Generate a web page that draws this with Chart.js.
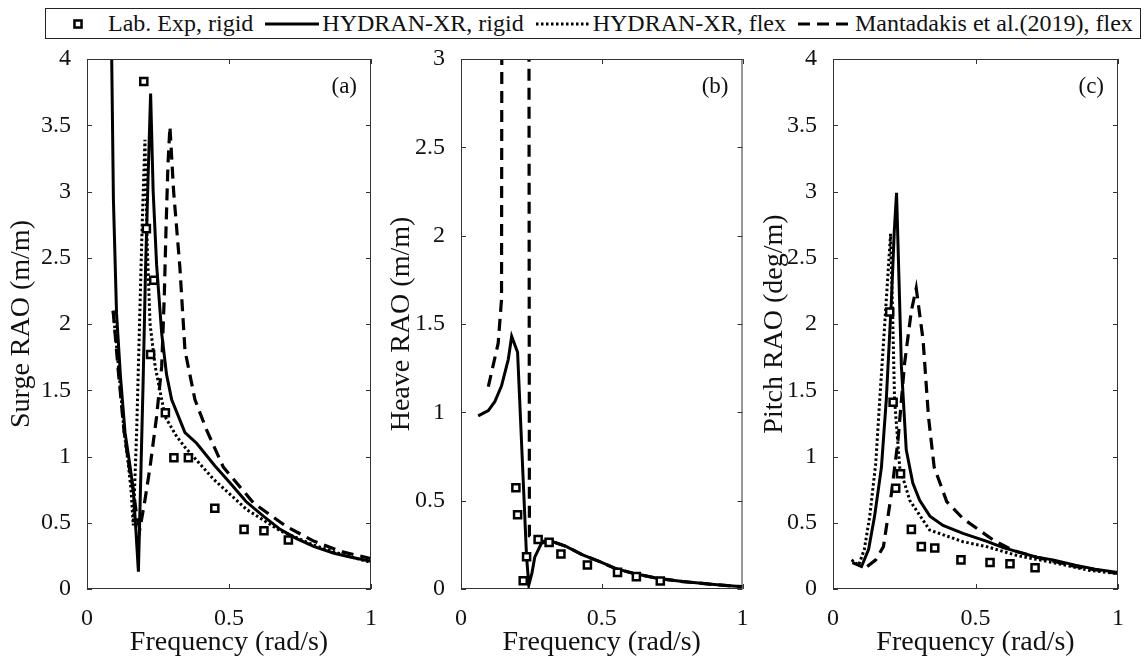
<!DOCTYPE html>
<html>
<head>
<title>RAO comparison</title>
<script src="https://cdn.jsdelivr.net/npm/chart.js"></script>
<style>
  body { margin: 0; background: #fff; width: 1146px; height: 664px; position: relative; overflow: hidden;
         font-family: "Liberation Serif", serif; color: #111; }
  canvas.panel { position: absolute; top: 40px; }
  #legend { position: absolute; left: 45px; top: 8px; width: 1094px; height: 29px; border: 1px solid #222;
            display: flex; align-items: center; font-size: 24px; white-space: nowrap; background: #fff; }
  #legend .item { display: flex; align-items: center; margin-left: 12px; }
  #legend .item span { margin-left: 3px; }
</style>
</head>
<body>
<div id="legend"></div>
<canvas id="surge" class="panel" width="380" height="624" style="left:0px"></canvas>
<canvas id="heave" class="panel" width="370" height="624" style="left:380px"></canvas>
<canvas id="pitch" class="panel" width="396" height="624" style="left:750px"></canvas>

<script>
// ---- surge (a) ----
const surgeExpFreq = [0.200, 0.209, 0.224, 0.235, 0.276, 0.306, 0.357, 0.450, 0.553, 0.623, 0.709];
const surgeExp     = [3.83, 2.72, 1.77, 2.33, 1.33, 0.99, 0.99, 0.61, 0.45, 0.44, 0.37];

const surgeRigidFreq = [0.083, 0.087, 0.093, 0.104, 0.118, 0.134, 0.150, 0.163, 0.172, 0.181, 0.190, 0.198, 0.206, 0.215, 0.224, 0.233, 0.245, 0.263, 0.280, 0.298, 0.345, 0.386, 0.450, 0.504, 0.560, 0.621, 0.680, 0.738, 0.800, 0.870, 0.930, 1.000];
const surgeRigid     = [4.60, 4.00, 2.94, 2.08, 1.60, 1.18, 0.95, 0.75, 0.45, 0.13, 0.90, 1.60, 2.40, 3.10, 3.74, 3.00, 2.45, 1.93, 1.62, 1.43, 1.18, 1.10, 0.93, 0.80, 0.66, 0.55, 0.45, 0.38, 0.32, 0.27, 0.24, 0.21];

const surgeFlexFreq = [0.092, 0.110, 0.130, 0.145, 0.155, 0.163, 0.175, 0.185, 0.195, 0.204, 0.212, 0.222, 0.240, 0.275, 0.316, 0.345, 0.445, 0.562, 0.680, 0.800, 0.900, 1.000];
const surgeFlex     = [2.10, 1.70, 1.20, 0.95, 0.75, 0.48, 1.20, 2.00, 2.80, 3.39, 2.60, 2.00, 1.68, 1.30, 1.15, 1.07, 0.83, 0.60, 0.44, 0.33, 0.26, 0.20];

const surgeRefFreq = [0.092, 0.110, 0.130, 0.150, 0.165, 0.175, 0.186, 0.204, 0.222, 0.245, 0.263, 0.272, 0.278, 0.285, 0.292, 0.305, 0.327, 0.345, 0.380, 0.421, 0.480, 0.586, 0.703, 0.800, 0.900, 1.000];
const surgeRef     = [2.10, 1.65, 1.20, 0.90, 0.72, 0.55, 0.45, 0.67, 0.92, 1.30, 1.68, 2.20, 2.70, 3.20, 3.49, 3.00, 2.43, 1.80, 1.43, 1.20, 0.92, 0.65, 0.47, 0.36, 0.28, 0.23];

// ---- heave (b) ----
const heaveExpFreq = [0.195, 0.201, 0.221, 0.233, 0.274, 0.313, 0.355, 0.449, 0.556, 0.623, 0.708];
const heaveExp     = [0.573, 0.420, 0.047, 0.183, 0.280, 0.264, 0.198, 0.136, 0.094, 0.070, 0.045];

const heaveRigidFreq = [0.061, 0.097, 0.120, 0.144, 0.168, 0.180, 0.201, 0.233, 0.241, 0.252, 0.262, 0.286, 0.322, 0.375, 0.430, 0.493, 0.550, 0.611, 0.700, 0.788, 0.900, 1.000];
const heaveRigid     = [0.98, 1.01, 1.06, 1.15, 1.30, 1.43, 1.34, 0.18, 0.023, 0.09, 0.18, 0.26, 0.27, 0.24, 0.195, 0.155, 0.115, 0.089, 0.060, 0.042, 0.025, 0.013];

const heaveRefFreq = [0.097, 0.132, 0.144, 0.147, 0.240, 0.243, 0.270, 0.322, 0.375, 0.430, 0.493, 0.550, 0.611, 0.700, 0.788, 0.900, 1.000];
const heaveRef     = [1.145, 1.39, 1.64, 6.00, 6.00, 0.30, 0.27, 0.27, 0.24, 0.195, 0.155, 0.115, 0.089, 0.060, 0.042, 0.025, 0.013];

// ---- pitch (c) ----
const pitchExpFreq = [0.199, 0.211, 0.220, 0.237, 0.275, 0.310, 0.357, 0.449, 0.551, 0.621, 0.709];
const pitchExp     = [2.09, 1.41, 0.76, 0.87, 0.45, 0.32, 0.31, 0.22, 0.20, 0.19, 0.16];

const pitchRigidFreq = [0.068, 0.100, 0.125, 0.146, 0.170, 0.187, 0.205, 0.215, 0.223, 0.232, 0.240, 0.257, 0.280, 0.304, 0.340, 0.386, 0.456, 0.540, 0.600, 0.715, 0.772, 0.850, 0.920, 1.000];
const pitchRigid     = [0.20, 0.17, 0.30, 0.55, 0.92, 1.43, 2.18, 2.70, 2.99, 2.30, 1.68, 1.05, 0.80, 0.67, 0.55, 0.48, 0.42, 0.36, 0.31, 0.24, 0.22, 0.18, 0.15, 0.125];

const pitchFlexFreq = [0.065, 0.090, 0.110, 0.129, 0.150, 0.164, 0.187, 0.202, 0.210, 0.216, 0.234, 0.269, 0.339, 0.456, 0.539, 0.650, 0.772, 0.900, 1.000];
const pitchFlex     = [0.22, 0.18, 0.30, 0.55, 0.95, 1.43, 2.18, 2.68, 2.00, 1.43, 0.92, 0.67, 0.445, 0.357, 0.32, 0.25, 0.20, 0.14, 0.117];

const pitchRefFreq = [0.120, 0.150, 0.177, 0.205, 0.228, 0.251, 0.275, 0.292, 0.316, 0.335, 0.355, 0.399, 0.457, 0.562, 0.633, 0.715, 0.850, 1.000];
const pitchRef     = [0.17, 0.22, 0.32, 0.72, 1.12, 1.70, 2.10, 2.27, 1.88, 1.30, 0.92, 0.66, 0.53, 0.37, 0.29, 0.24, 0.17, 0.117];

const freqTicks = [0, 0.5, 1];

const pts = (xs, ys) => xs.map((x, i) => ({ x: x, y: ys[i] }));
const fmt = v => String(Math.round(v * 100) / 100);

const TEXT = '#111';
const FONT = '"Liberation Serif", serif';

// series styles, shared with the legend
const styles = {
  exp:   { label: 'Lab. Exp, rigid', showLine: false, pointStyle: 'rect', pointRadius: 5, borderWidth: 2.5,
           borderColor: '#000', backgroundColor: '#fff' },
  rigid: { label: 'HYDRAN-XR, rigid', showLine: true, pointRadius: 0, borderWidth: 3, borderColor: '#000' },
  flex:  { label: 'HYDRAN-XR, flex', showLine: true, pointRadius: 0, borderWidth: 3, borderColor: '#000',
           borderDash: [2.5, 2.5] },
  ref:   { label: 'Mantadakis et al.(2019), flex', showLine: true, pointRadius: 0, borderWidth: 3.2,
           borderColor: '#000', borderDash: [12, 7] }
};

// box around the plot area, inward ticks on all four sides and the panel tag
const frame = {
  id: 'frame',
  afterDraw(chart, args, opts) {
    const { ctx, chartArea: a, scales: { x, y } } = chart;
    ctx.save();
    ctx.strokeStyle = '#333';
    ctx.lineWidth = 1;
    ctx.strokeRect(a.left + 0.5, a.top + 0.5, a.right - a.left - 1, a.bottom - a.top - 1);
    ctx.beginPath();
    x.ticks.forEach(t => {
      const px = Math.round(x.getPixelForValue(t.value)) + 0.5;
      ctx.moveTo(px, a.bottom); ctx.lineTo(px, a.bottom - 5);
      ctx.moveTo(px, a.top); ctx.lineTo(px, a.top + 5);
    });
    y.ticks.forEach(t => {
      const py = Math.round(y.getPixelForValue(t.value)) + 0.5;
      ctx.moveTo(a.left, py); ctx.lineTo(a.left + 5, py);
      ctx.moveTo(a.right, py); ctx.lineTo(a.right - 5, py);
    });
    ctx.stroke();
    ctx.fillStyle = TEXT;
    ctx.font = '23px ' + FONT;
    ctx.textAlign = 'right';
    ctx.textBaseline = 'middle';
    ctx.fillText(opts.tag, a.right - 14, a.top + 28);
    ctx.restore();
  }
};

function makePanel(id, cfg) {
  const datasets = cfg.series.map(s => Object.assign({}, styles[s.kind], { data: s.data }));
  return new Chart(document.getElementById(id), {
    type: 'scatter',
    data: { datasets: datasets },
    options: {
      responsive: false,
      animation: false,
      layout: { padding: { top: 19, right: cfg.padRight, left: 0, bottom: 0 } },
      plugins: { legend: { display: false }, tooltip: { enabled: false }, frame: { tag: cfg.tag } },
      scales: {
        x: {
          type: 'linear', min: 0, max: 1,
          afterBuildTicks: s => { s.ticks = freqTicks.map(v => ({ value: v })); },
          ticks: { color: TEXT, font: { family: FONT, size: 24 }, padding: 7, callback: fmt },
          grid: { display: false },
          border: { display: false },
          title: { display: true, text: 'Frequency (rad/s)', color: TEXT,
                   font: { family: FONT, size: 28 }, padding: { top: 0, bottom: 5 } },
          afterFit: s => { s.height = 75; s.paddingLeft = 0; s.paddingRight = 0; }
        },
        y: {
          type: 'linear', min: 0, max: cfg.yMax,
          ticks: { stepSize: 0.5, color: TEXT, font: { family: FONT, size: 24 }, padding: 8, callback: fmt },
          grid: { display: false },
          border: { display: false },
          title: { display: true, text: cfg.yTitle, color: TEXT,
                   font: { family: FONT, size: 28 }, padding: { top: cfg.titlePad, bottom: 0 } },
          afterFit: s => { s.width = cfg.yWidth; s.paddingTop = 0; s.paddingBottom = 0; }
        }
      }
    },
    plugins: [frame]
  });
}

makePanel('surge', {
  tag: '(a)', yMax: 4, yTitle: 'Surge RAO (m/m)', yWidth: 87, padRight: 9, titlePad: 5,
  series: [
    { kind: 'exp', data: pts(surgeExpFreq, surgeExp) },
    { kind: 'rigid', data: pts(surgeRigidFreq, surgeRigid) },
    { kind: 'flex', data: pts(surgeFlexFreq, surgeFlex) },
    { kind: 'ref', data: pts(surgeRefFreq, surgeRef) }
  ]
});

makePanel('heave', {
  tag: '(b)', yMax: 3, yTitle: 'Heave RAO (m/m)', yWidth: 81, padRight: 7, titlePad: 5,
  series: [
    { kind: 'exp', data: pts(heaveExpFreq, heaveExp) },
    { kind: 'rigid', data: pts(heaveRigidFreq, heaveRigid) },
    { kind: 'ref', data: pts(heaveRefFreq, heaveRef) }
  ]
});

makePanel('pitch', {
  tag: '(c)', yMax: 4, yTitle: 'Pitch RAO (deg/m)', yWidth: 83, padRight: 28, titlePad: 8,
  series: [
    { kind: 'exp', data: pts(pitchExpFreq, pitchExp) },
    { kind: 'rigid', data: pts(pitchRigidFreq, pitchRigid) },
    { kind: 'flex', data: pts(pitchFlexFreq, pitchFlex) },
    { kind: 'ref', data: pts(pitchRefFreq, pitchRef) }
  ]
});

// legend keys drawn with the same styles as the series
const legend = document.getElementById('legend');
['exp', 'rigid', 'flex', 'ref'].forEach((k, i) => {
  const st = styles[k];
  const item = document.createElement('div');
  item.className = 'item';
  if (i === 0) item.style.marginLeft = '18px';
  const key = document.createElement('canvas');
  const w = k === 'exp' ? 41 : 54;
  key.width = w; key.height = 20;
  const c = key.getContext('2d');
  c.strokeStyle = '#000';
  c.lineWidth = st.borderWidth;
  if (k === 'exp') {
    c.fillStyle = '#fff';
    const s = st.pointRadius * Math.SQRT1_2;
    c.fillRect(14 - s, 10 - s, 2 * s, 2 * s);
    c.strokeRect(14 - s, 10 - s, 2 * s, 2 * s);
  } else {
    c.setLineDash(st.borderDash || []);
    c.beginPath(); c.moveTo(0, 10); c.lineTo(w, 10); c.stroke();
  }
  const txt = document.createElement('span');
  txt.textContent = st.label;
  item.appendChild(key);
  item.appendChild(txt);
  legend.appendChild(item);
});
</script>
</body>
</html>
